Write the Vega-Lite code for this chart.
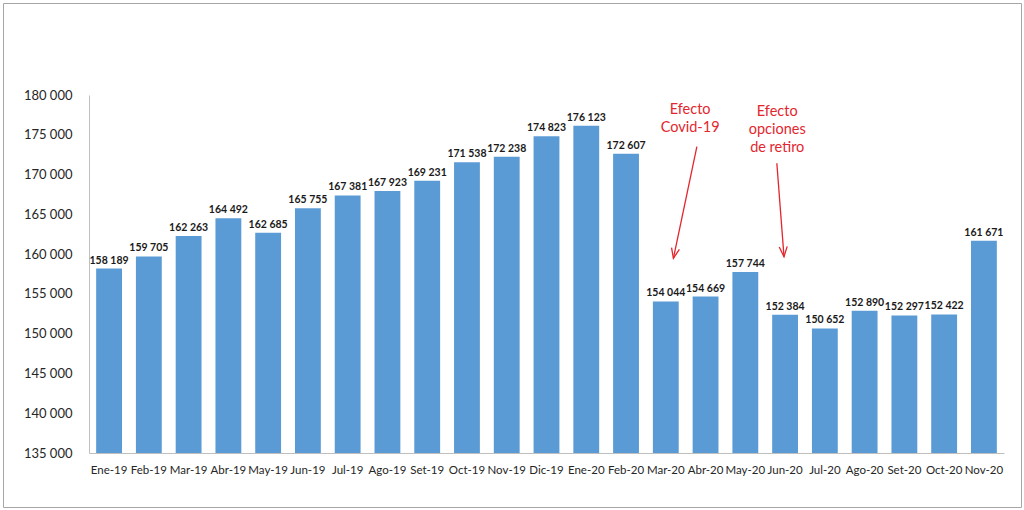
{
  "$schema": "https://vega.github.io/schema/vega-lite/v6.json",
  "width": 1018,
  "height": 504,
  "autosize": {"type": "none"},
  "padding": 3,
  "background": "white",
  "config": {
    "view": {"stroke": "#a6a6a6", "strokeWidth": 1},
    "font": "Lato",
    "locale": {"number": {"decimal": ",", "thousands": " ", "grouping": [3], "currency": ["", ""]}}
  },
  "datasets": {
    "bars": [
      {"mes": "Ene-19", "valor": 158189},
      {"mes": "Feb-19", "valor": 159705},
      {"mes": "Mar-19", "valor": 162263},
      {"mes": "Abr-19", "valor": 164492},
      {"mes": "May-19", "valor": 162685},
      {"mes": "Jun-19", "valor": 165755},
      {"mes": "Jul-19", "valor": 167381},
      {"mes": "Ago-19", "valor": 167923},
      {"mes": "Set-19", "valor": 169231},
      {"mes": "Oct-19", "valor": 171538},
      {"mes": "Nov-19", "valor": 172238},
      {"mes": "Dic-19", "valor": 174823},
      {"mes": "Ene-20", "valor": 176123},
      {"mes": "Feb-20", "valor": 172607},
      {"mes": "Mar-20", "valor": 154044},
      {"mes": "Abr-20", "valor": 154669},
      {"mes": "May-20", "valor": 157744},
      {"mes": "Jun-20", "valor": 152384},
      {"mes": "Jul-20", "valor": 150652},
      {"mes": "Ago-20", "valor": 152890},
      {"mes": "Set-20", "valor": 152297},
      {"mes": "Oct-20", "valor": 152422},
      {"mes": "Nov-20", "valor": 161671}
    ],
    "arrows": [
      {"x1": 15.28, "y1": 173501, "x2": 14.69, "y2": 159474},
      {"x1": 17.29, "y1": 171415, "x2": 17.47, "y2": 159675}
    ],
    "heads": [
      {"x": 14.69, "y": 159474, "ang": 11.8},
      {"x": 17.47, "y": 159675, "ang": 355.5}
    ],
    "notes": [
      {"x": 15.11, "y": 178950, "texto": "Efecto\nCovid-19"},
      {"x": 17.30, "y": 178700, "texto": "Efecto\nopciones\nde retiro"}
    ]
  },
  "layer": [
    {
      "data": {"name": "bars"},
      "encoding": {
        "x": {
          "field": "mes", "type": "ordinal", "sort": null,
          "scale": {"range": [86, 1001], "paddingInner": 0.35, "paddingOuter": 0.18},
          "axis": {"title": null, "offset": -54, "ticks": false, "domainColor": "#bfbfbf", "labelAngle": 0, "labelFontSize": 11.5, "labelColor": "#262626", "labelPadding": 11, "labelOverlap": false, "labelBound": false}
        },
        "y": {
          "field": "valor", "type": "quantitative",
          "scale": {"domain": [135000, 180000], "range": [450, 92], "zero": false, "nice": false},
          "axis": {"title": null, "offset": -86, "ticks": false, "grid": false, "domainColor": "#bfbfbf", "labelFontSize": 13, "labelColor": "#262626", "labelPadding": 17, "values": [135000, 140000, 145000, 150000, 155000, 160000, 165000, 170000, 175000, 180000], "format": ",d"}
        }
      },
      "layer": [
        {"mark": {"type": "bar", "color": "#5b9bd5"}, "encoding": {"y2": {"datum": 135000}}},
        {"mark": {"type": "text", "baseline": "bottom", "dy": -3, "fontWeight": "bold", "fontSize": 10.5, "color": "#1a1a1a"}, "encoding": {"text": {"field": "valor", "type": "quantitative", "format": ",d"}}}
      ]
    },
    {
      "data": {"name": "arrows"},
      "mark": {"type": "rule", "color": "#e3262e", "strokeWidth": 1.3},
      "encoding": {
        "x": {"field": "x1", "type": "quantitative", "scale": {"domain": [0, 23], "range": [86, 1001], "nice": false, "zero": false}, "axis": null},
        "x2": {"field": "x2"},
        "y": {"field": "y1", "type": "quantitative", "title": null},
        "y2": {"field": "y2"}
      }
    },
    {
      "data": {"name": "heads"},
      "mark": {"type": "point", "shape": "M-0.4,-1L0,0L0.4,-1", "filled": false, "stroke": "#e3262e", "strokeWidth": 1.3, "size": 400, "opacity": 1},
      "encoding": {
        "x": {"field": "x", "type": "quantitative", "scale": {"domain": [0, 23], "range": [86, 1001], "nice": false, "zero": false}, "axis": null},
        "y": {"field": "y", "type": "quantitative", "title": null},
        "angle": {"field": "ang", "type": "quantitative", "scale": null}
      }
    },
    {
      "data": {"name": "notes"},
      "mark": {"type": "text", "align": "center", "baseline": "top", "lineBreak": "\n", "lineHeight": 18, "fontSize": 14.5, "color": "#e3262e"},
      "encoding": {
        "x": {"field": "x", "type": "quantitative", "scale": {"domain": [0, 23], "range": [86, 1001], "nice": false, "zero": false}, "axis": null},
        "y": {"field": "y", "type": "quantitative", "title": null},
        "text": {"field": "texto"}
      }
    }
  ],
  "resolve": {"scale": {"x": "independent"}}
}
